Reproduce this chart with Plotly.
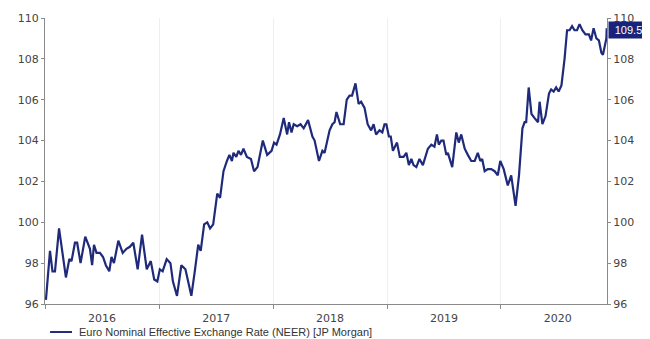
import plotly.graph_objects as go

dates = [
    "2016-01-04","2016-01-17","2016-01-25","2016-02-02","2016-02-15","2016-03-08","2016-03-19","2016-03-26",
    "2016-04-06","2016-04-13","2016-04-24","2016-05-09","2016-05-24","2016-05-31","2016-06-06","2016-06-14",
    "2016-06-25","2016-07-05","2016-07-14","2016-07-25","2016-08-01","2016-08-09","2016-08-23","2016-09-06",
    "2016-09-18","2016-09-29","2016-10-10","2016-10-24","2016-11-07","2016-11-22","2016-12-05","2016-12-16",
    "2016-12-26","2017-01-03","2017-01-12","2017-01-25","2017-02-06","2017-02-14","2017-02-27","2017-03-13",
    "2017-03-26","2017-04-14","2017-04-25","2017-05-06","2017-05-14","2017-05-25","2017-06-04","2017-06-13",
    "2017-06-23","2017-07-06","2017-07-15","2017-07-26","2017-08-06","2017-08-14","2017-08-22","2017-08-27",
    "2017-09-05","2017-09-12","2017-09-20","2017-09-28","2017-10-09","2017-10-22","2017-11-01","2017-11-12",
    "2017-11-29","2017-12-13","2017-12-27","2018-01-04","2018-01-12","2018-01-23","2018-02-04","2018-02-15",
    "2018-02-21","2018-03-01","2018-03-08","2018-03-19","2018-03-30","2018-04-09","2018-04-23","2018-05-07",
    "2018-05-14","2018-05-28","2018-06-08","2018-06-15","2018-07-01","2018-07-10","2018-07-17","2018-07-23",
    "2018-08-04","2018-08-15","2018-08-25","2018-09-03","2018-09-11","2018-09-22","2018-10-02","2018-10-10",
    "2018-10-21","2018-10-31","2018-11-11","2018-11-19","2018-11-27","2018-12-08","2018-12-17","2018-12-24",
    "2018-12-30","2019-01-07","2019-01-13","2019-01-20","2019-02-02","2019-02-11","2019-02-23","2019-03-04",
    "2019-03-12","2019-03-20","2019-03-27","2019-04-05","2019-04-15","2019-04-26","2019-05-12","2019-05-23",
    "2019-06-02","2019-06-10","2019-06-16","2019-06-24","2019-07-01","2019-07-10","2019-07-15","2019-07-29",
    "2019-08-11","2019-08-19","2019-08-27","2019-09-07","2019-09-17","2019-09-28","2019-10-09","2019-10-19",
    "2019-10-27","2019-11-02","2019-11-10","2019-11-20","2019-12-01","2019-12-12","2019-12-22","2019-12-30",
    "2020-01-10","2020-01-23","2020-02-03","2020-02-17","2020-02-28","2020-03-10","2020-03-17","2020-03-22",
    "2020-03-30","2020-04-08","2020-04-18","2020-04-29","2020-05-04","2020-05-13","2020-05-23","2020-06-03",
    "2020-06-10","2020-06-18","2020-06-26","2020-07-04","2020-07-13","2020-07-23","2020-07-31","2020-08-08",
    "2020-08-16","2020-08-24","2020-09-01","2020-09-09","2020-09-18","2020-09-28","2020-10-09","2020-10-16",
    "2020-10-24","2020-11-02","2020-11-10","2020-11-18","2020-11-23","2020-12-04","2020-12-05",
]

neer = [
    96.2, 98.6, 97.6, 97.6, 99.7, 97.3, 98.2, 98.1,
    99.0, 99.0, 98.0, 99.3, 98.7, 97.9, 98.9, 98.5,
    98.5, 98.3, 97.9, 97.6, 98.3, 98.0, 99.1, 98.5,
    98.7, 98.8, 99.0, 97.7, 99.4, 97.7, 98.1, 97.2,
    97.1, 97.7, 97.6, 98.2, 98.0, 97.1, 96.4, 97.9,
    97.7, 96.4, 97.6, 98.9, 98.6, 99.9, 100.0, 99.7,
    99.9, 101.4, 101.2, 102.5, 103.0, 103.3, 103.0, 103.4,
    103.2, 103.5, 103.3, 103.6, 103.2, 103.1, 102.5, 102.7,
    104.0, 103.3, 103.5, 103.9, 103.8, 104.3, 105.1, 104.3,
    104.9, 104.4, 104.8, 104.7, 104.8, 104.6, 105.0, 104.2,
    104.0, 103.0, 103.5, 103.4, 104.5, 104.8, 104.9, 105.4,
    104.8, 104.8, 106.0, 106.2, 106.2, 106.8, 105.8, 105.9,
    105.6, 104.8, 104.5, 104.8, 104.3, 104.5, 104.4, 104.8,
    104.8, 104.2, 104.2, 103.5, 103.9, 103.2, 103.2, 103.4,
    102.8, 103.1, 102.8, 102.7, 103.1, 102.8, 103.6, 103.8,
    103.7, 104.3, 103.8, 104.0, 104.0, 103.3, 103.4, 102.7,
    104.4, 103.9, 104.3, 103.6, 103.3, 103.0, 103.0, 103.4,
    103.0, 103.1, 102.5, 102.6, 102.6, 102.5, 102.3, 103.0,
    102.6, 101.8, 102.3, 100.8, 102.3, 104.6, 104.9, 104.9,
    106.6, 105.3, 105.1, 104.9, 105.9, 104.8, 105.2, 106.3,
    106.5, 106.4, 106.6, 106.4, 106.7, 108.0, 109.4, 109.4,
    109.6, 109.4, 109.4, 109.7, 109.4, 109.2, 109.2, 108.9,
    109.5, 109.0, 108.9, 108.3, 108.2, 109.0, 109.5,
]

series_name = "Euro Nominal Effective Exchange Rate (NEER) [JP Morgan]"
y_ticks = [96, 98, 100, 102, 104, 106, 108, 110]
last_label = "109.5"

LINE = "#1f2a7a"
AXIS = "#8a8a8a"
TXT = "#444444"

fig = go.Figure()
fig.add_trace(go.Scatter(x=dates, y=neer, mode="lines", name=series_name, showlegend=False,
                         line=dict(color=LINE, width=2.2)))
fig.add_trace(go.Scatter(x=dates, y=neer, mode="lines", yaxis="y2", showlegend=False,
                         hoverinfo="skip", line=dict(color="rgba(0,0,0,0)", width=0)))

# page body has an 8px margin, so the figure is sized to fit inside the 650x339 window
fig.update_layout(
    width=642, height=331,
    margin=dict(l=37, r=43, t=10, b=35, autoexpand=False),
    paper_bgcolor="white", plot_bgcolor="white",
    font=dict(family="DejaVu Sans", size=11, color=TXT),
    showlegend=False,
    xaxis=dict(type="date", range=["2016-01-01", "2020-12-06"],
               dtick="M12", tick0="2016-01-01", ticklabelmode="period", tickformat="%Y",
               showgrid=True, gridcolor="#efefef", gridwidth=1,
               showline=True, linecolor=AXIS, linewidth=1,
               ticks="outside", ticklen=4, tickcolor=AXIS, zeroline=False),
    yaxis=dict(range=[96, 110], tickvals=y_ticks, showgrid=False, zeroline=False,
               showline=True, linecolor=AXIS, linewidth=1,
               ticks="outside", ticklen=3, tickcolor=AXIS, side="left"),
    yaxis2=dict(range=[96, 110], tickvals=y_ticks, showgrid=False, zeroline=False,
                overlaying="y", side="right",
                showline=True, linecolor=AXIS, linewidth=1,
                ticks="outside", ticklen=3, tickcolor=AXIS),
)

# legend (drawn manually so it does not push the plot margins)
fig.add_shape(type="line", xref="paper", yref="paper", x0=0.009, x1=0.048, y0=-0.098, y1=-0.098,
              line=dict(color=LINE, width=2))
fig.add_annotation(x=0.057, xref="paper", xanchor="left", y=-0.098, yref="paper", yanchor="middle",
                   text=series_name, showarrow=False,
                   font=dict(family="Liberation Sans", size=11, color="#333333"))

fig.add_annotation(x=1.0, xref="paper", xanchor="left", xshift=1,
                   y=neer[-1], yref="y", yanchor="middle", yshift=-2,
                   text=last_label, showarrow=False, width=37, height=14, align="center",
                   font=dict(family="Liberation Sans", size=11, color="white"),
                   bgcolor="#1a237a", borderpad=1)

fig.write_html("out.html")
